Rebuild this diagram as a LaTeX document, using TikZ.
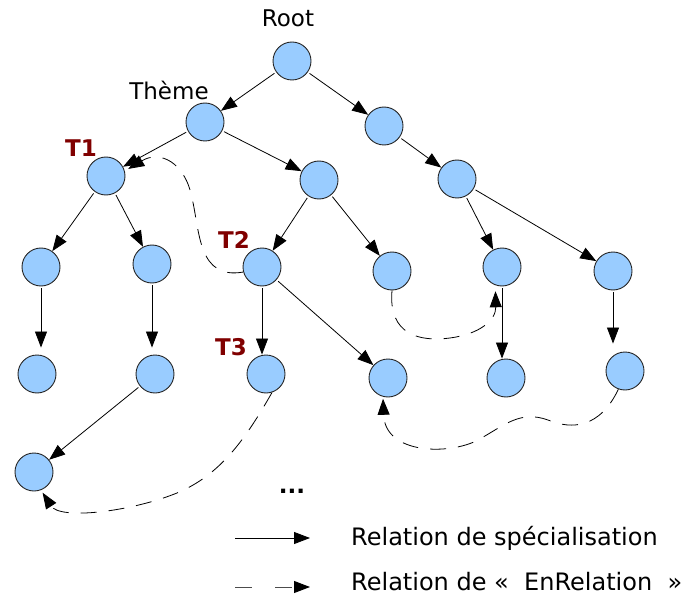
\documentclass[tikz,border=0pt]{standalone}
\usepackage{fontspec}
\setmainfont{DejaVu Sans}
\usetikzlibrary{arrows.meta}
\definecolor{nodefill}{HTML}{99CCFF}
\definecolor{tlabel}{HTML}{800000}
\begin{document}
\begin{tikzpicture}[x=1pt,y=-1pt,
  concept/.style={circle,draw=black!85,fill=nodefill,line width=0.9pt,minimum size=38pt,inner sep=0pt},
  tip/.style={-{Triangle[length=16pt,width=12pt,color=black]}},
  spec/.style={tip,line width=0.8pt,shorten <=2pt},
  enrel/.style={tip,line width=0.8pt,dash pattern=on 16pt off 12pt},
  lbl/.style={font=\fontsize{23}{27}\selectfont,inner sep=0pt},
  leglbl/.style={font=\fontsize{24}{28}\selectfont,inner sep=0pt},
  tlbl/.style={font=\fontsize{23}{27}\selectfont\bfseries,text=tlabel,inner sep=0pt}]
\useasboundingbox (0,0) rectangle (685,596);

% nodes
\node[concept] (root) at (292,61) {};
\node[concept] (theme) at (205,122) {};
\node[concept] (r1) at (384,126) {};
\node[concept] (t1) at (106,176) {};
\node[concept] (m1) at (319,180) {};
\node[concept] (r2) at (457,179) {};
\node[concept] (a3) at (41,267) {};
\node[concept] (b3) at (152,264) {};
\node[concept] (t2) at (262,267) {};
\node[concept] (c3) at (392,271) {};
\node[concept] (d3) at (502,267) {};
\node[concept] (e3) at (613,271) {};
\node[concept] (a4) at (37,374) {};
\node[concept] (b4) at (155,374) {};
\node[concept] (t3) at (266,374) {};
\node[concept] (c4) at (388,378) {};
\node[concept] (d4) at (506,378) {};
\node[concept] (e4) at (625,371) {};
\node[concept] (n5) at (34,472) {};

% labels
\node[lbl,anchor=base] (lroot) at (288,27) {Root};
\node[lbl,anchor=base] (ltheme) at (169,100) {Thème};
\node[tlbl,anchor=base] (lt1) at (81,157) {T1};
\node[tlbl,anchor=base] (lt2) at (234,248) {T2};
\node[tlbl,anchor=base] (lt3) at (231,355) {T3};
\node[tlbl,text=black,anchor=base] (dots) at (292,493) {...};

% specialisation edges
\draw[spec] (root) -- (theme);
\draw[spec] (root) -- (r1);
\draw[spec] (theme) -- (t1);
\draw[spec] (theme) -- (m1);
\draw[spec] (r1) -- (r2);
\draw[spec] (t1) -- (a3);
\draw[spec] (t1) -- (b3);
\draw[spec] (m1) -- (t2);
\draw[spec] (m1) -- (c3);
\draw[spec] (r2) -- (d3);
\draw[spec] (r2) -- (e3);
\draw[spec,shorten >=7pt] (a3.south) -- (a3.south |- a4.north);
\draw[spec,shorten >=7pt] (b3.south) -- (b3.south |- b4.north);
\draw[spec] (t2.south) -- (t2.south |- t3.north);
\draw[spec] (t2) -- (c4);
\draw[spec] (d3.south) -- (d3.south |- d4.north);
\draw[spec,shorten >=8pt] (e3.south) -- (e3.south |- e4.north);
\draw[spec] (b4) -- (n5);

% EnRelation edges
\draw[enrel,shorten >=4pt] (t2.195) .. controls (198,280) and (200,232) .. (192,198)
  .. controls (185,162) and (160,150) .. (t1.15);
\draw[enrel,shorten >=6pt] (c3.south) .. controls (388,335) and (420,342) .. (450,338)
  .. controls (480,334) and (496,320) .. (d3.250);
\draw[enrel,shorten >=2pt] (e4.250) .. controls (600,428) and (572,430) .. (548,420)
  .. controls (520,410) and (505,425) .. (478,440)
  .. controls (450,455) and (385,455) .. (c4.255);
\draw[enrel,shorten >=3pt] (t3.288) .. controls (245,440) and (220,475) .. (177,493)
  .. controls (130,512) and (60,520) .. (n5.291);

% legend
\coordinate (ls1) at (235,538);
\coordinate (le1) at (310,538);
\coordinate (ls2) at (235,587);
\coordinate (le2) at (310,587);
\draw[spec,shorten <=0pt] (ls1) -- (le1);
\draw[tip,line width=0.9pt,draw=black!70,dash pattern=on 17pt off 23pt] (ls2) -- (le2);
\node[leglbl,anchor=base west] (leg1) at (351,545) {Relation de spécialisation};
\node[leglbl,anchor=base west] (leg2) at (351,590) {Relation de «~~EnRelation~~»};
\end{tikzpicture}
\end{document}
